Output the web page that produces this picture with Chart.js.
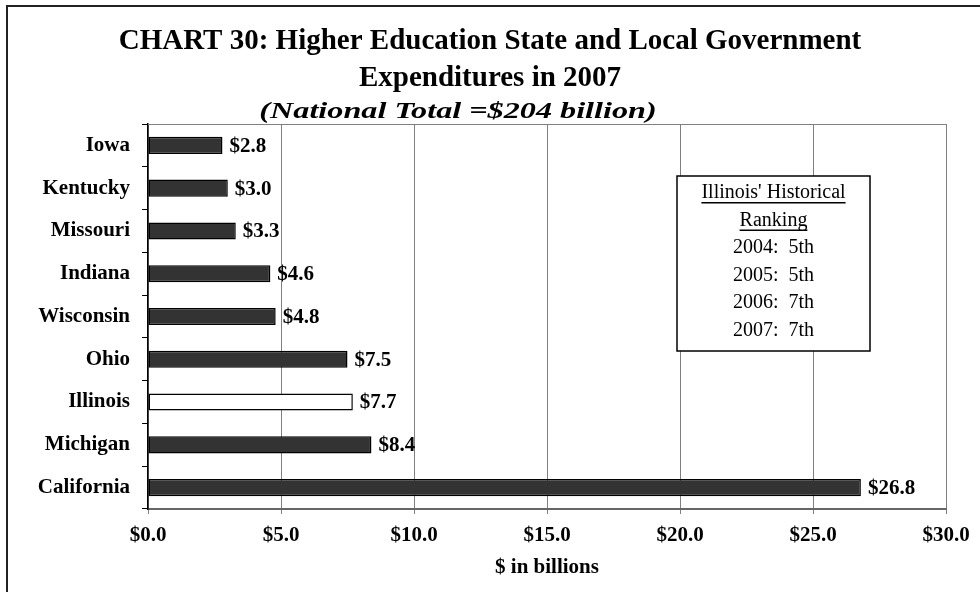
<!DOCTYPE html>
<html>
<head>
<meta charset="utf-8">
<title>Higher Education Expenditures 2007</title>
<script src="https://cdn.jsdelivr.net/npm/chart.js@4"></script>
<style>
  html, body { margin: 0; padding: 0; background: #fff; }
  #wrap { width: 980px; height: 592px; }
</style>
</head>
<body>
<div id="wrap"><canvas id="chart" width="980" height="592"></canvas></div>
<script>
// states, top to bottom
const states = ['Iowa', 'Kentucky', 'Missouri', 'Indiana', 'Wisconsin', 'Ohio', 'Illinois', 'Michigan', 'California'];
// $ billions
const spending = [2.8, 3.0, 3.3, 4.6, 4.8, 7.5, 7.7, 8.4, 26.8];
const highlightState = 'Illinois';

const rankYears = ['2004', '2005', '2006', '2007'];
const rankPlaces = ['5th', '5th', '7th', '7th'];

const titleLines = ['CHART 30: Higher Education State and Local Government', 'Expenditures in 2007'];
const subtitleText = '(National Total =$204 billion)';

const SERIF = '"Liberation Serif", "Times New Roman", serif';

const money = v => '$' + Number(v).toFixed(1);

// outer frame, plot top edge, headings
const framePlugin = {
  id: 'frame',
  afterDraw(chart) {
    const ctx = chart.ctx;
    const a = chart.chartArea;
    ctx.save();
    ctx.strokeStyle = '#222';
    ctx.lineWidth = 2;
    ctx.beginPath();
    ctx.moveTo(7, 592);
    ctx.lineTo(7, 6);
    ctx.lineTo(980, 6);
    ctx.stroke();

    ctx.strokeStyle = '#808080';
    ctx.lineWidth = 1;
    ctx.beginPath();
    ctx.moveTo(a.left, a.top + 0.5);
    ctx.lineTo(a.right, a.top + 0.5);
    ctx.stroke();

    ctx.fillStyle = '#000';
    ctx.textAlign = 'center';
    ctx.textBaseline = 'middle';
    ctx.font = 'bold 29px ' + SERIF;
    ctx.fillText(titleLines[0], 490, 42);
    ctx.fillText(titleLines[1], 490, 79);

    // the subtitle is set a little wide
    ctx.font = 'italic bold 23px ' + SERIF;
    ctx.translate(458, 112);
    ctx.scale(1.4, 1);
    ctx.fillText(subtitleText, 0, 0);
    ctx.restore();
  }
};

// value labels at the end of each bar
const valueLabels = {
  id: 'valueLabels',
  afterDatasetsDraw(chart) {
    const ctx = chart.ctx;
    const meta = chart.getDatasetMeta(0);
    ctx.save();
    ctx.fillStyle = '#000';
    ctx.font = 'bold 21px ' + SERIF;
    ctx.textAlign = 'left';
    ctx.textBaseline = 'middle';
    meta.data.forEach((bar, i) => {
      ctx.fillText(money(spending[i]), bar.x + 7, bar.y + 1);
    });
    ctx.restore();
  }
};

// "Illinois' Historical Ranking" note
const rankingBox = {
  id: 'rankingBox',
  afterDraw(chart) {
    const ctx = chart.ctx;
    const box = { x: 677, y: 176, w: 193, h: 175 };
    const cx = box.x + box.w / 2;
    ctx.save();
    ctx.fillStyle = '#fff';
    ctx.fillRect(box.x, box.y, box.w, box.h);
    ctx.strokeStyle = '#000';
    ctx.lineWidth = 1.5;
    ctx.strokeRect(box.x, box.y, box.w, box.h);

    ctx.fillStyle = '#000';
    ctx.textAlign = 'center';
    ctx.textBaseline = 'middle';
    ctx.font = '20px ' + SERIF;
    const heads = ["Illinois' Historical", 'Ranking'];
    let y = 193;
    heads.forEach(t => {
      ctx.fillText(t, cx, y);
      const w = ctx.measureText(t).width;
      ctx.fillRect(cx - w / 2, y + 9, w, 1.5);
      y += 27.5;
    });
    rankYears.forEach((yr, i) => {
      ctx.fillText(yr + ':  ' + rankPlaces[i], cx, y);
      y += 27.5;
    });
    ctx.restore();
  }
};

new Chart(document.getElementById('chart'), {
  type: 'bar',
  data: {
    labels: states,
    datasets: [{
      data: spending,
      backgroundColor: states.map(s => s === highlightState ? '#ffffff' : '#333333'),
      borderColor: '#000',
      borderWidth: 1.5,
      borderSkipped: false,
      barPercentage: 0.4,
      categoryPercentage: 1
    }]
  },
  options: {
    indexAxis: 'y',
    responsive: false,
    animation: false,
    layout: { padding: { top: 124, right: 34, bottom: 0, left: 0 } },
    plugins: {
      legend: { display: false },
      tooltip: { enabled: false }
    },
    scales: {
      x: {
        min: 0,
        max: 30,
        afterFit: s => { s.height = 83; },
        ticks: {
          stepSize: 5,
          padding: 9,
          color: '#000',
          font: { family: SERIF, size: 21, weight: 'bold' },
          callback: v => money(v)
        },
        grid: { color: '#808080', lineWidth: 1, tickLength: 5 },
        border: { color: '#666', width: 2 },
        title: {
          display: true,
          text: '$ in billions',
          color: '#000',
          font: { family: SERIF, size: 21, weight: 'bold' },
          padding: { top: 0, bottom: 12 }
        }
      },
      y: {
        afterFit: s => { s.width = 148; },
        ticks: {
          padding: 12,
          color: '#000',
          font: { family: SERIF, size: 21, weight: 'bold' }
        },
        grid: { drawOnChartArea: false, color: '#000', tickLength: 6 },
        border: { color: '#000', width: 1.5 }
      }
    }
  },
  plugins: [framePlugin, valueLabels, rankingBox]
});
</script>
</body>
</html>
